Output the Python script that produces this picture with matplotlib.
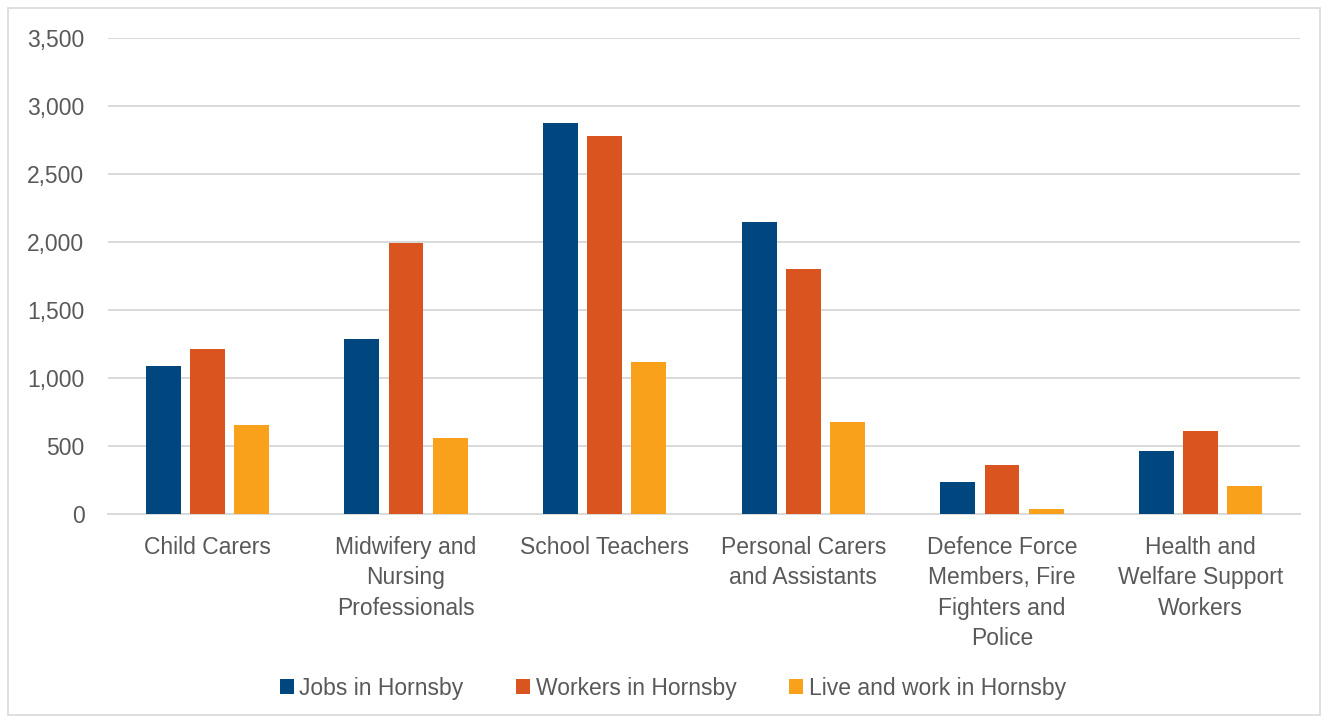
import matplotlib.pyplot as plt
import matplotlib.patches as patches
import numpy as np

categories = ['Child Carers', 'Midwifery and\nNursing\nProfessionals', 'School Teachers',
              'Personal Carers\nand Assistants', 'Defence Force\nMembers, Fire\nFighters and\nPolice',
              'Health and\nWelfare Support\nWorkers']
jobs = [1090, 1285, 2875, 2150, 235, 462]
workers = [1212, 1995, 2778, 1800, 360, 608]
liveWork = [652, 560, 1118, 676, 37, 205]
seriesNames = ['Jobs in Hornsby', 'Workers in Hornsby', 'Live and work in Hornsby']
colors = ['#00467F', '#D9541E', '#F9A11B']

plt.rcParams['font.family'] = ['Liberation Sans', 'DejaVu Sans']
textColor = '#595959'
fs = 16.5

fig = plt.figure(figsize=(13.29, 7.23), dpi=100)
ax = fig.add_axes([108 / 1329, 1 - 514 / 723, 1192 / 1329, 476 / 723])

x = np.arange(len(categories))
width = 0.176
offset = 0.222
for i, (vals, name) in enumerate(zip([jobs, workers, liveWork], seriesNames)):
    ax.bar(x + (i - 1) * offset, vals, width, color=colors[i], label=name, zorder=3)

ax.set_xlim(-0.5, len(categories) - 0.5)
ax.set_ylim(0, 3500)
ax.set_yticks(np.arange(0, 3501, 500))
ax.set_yticklabels([f'{v:,}' for v in range(0, 3501, 500)])
ax.set_xticks(x)
ax.set_xticklabels(categories, linespacing=1.40, va='top')
ax.tick_params(axis='both', length=0, labelsize=fs, colors=textColor)
ax.tick_params(axis='y', pad=17)
ax.tick_params(axis='x', pad=16)
ax.grid(axis='y', color='#D9D9D9', linewidth=1.4, zorder=0)
for s in ['top', 'right', 'left']:
    ax.spines[s].set_visible(False)
ax.spines['bottom'].set_color('#D9D9D9')
ax.spines['bottom'].set_linewidth(1.4)

leg = fig.legend(loc='center', bbox_to_anchor=(673 / 1329, 1 - 688 / 723), ncol=3, frameon=False,
                 fontsize=fs, handlelength=0.6, handleheight=0.6, handletextpad=0.25, columnspacing=2.3)
for t in leg.get_texts():
    t.set_color(textColor)

fig.patches.append(patches.Rectangle((8 / 1329, 8 / 723), 1312 / 1329, 707 / 723, transform=fig.transFigure,
                                     fill=False, edgecolor='#D9D9D9', linewidth=1.2))

fig.savefig('out.png', dpi=100)
